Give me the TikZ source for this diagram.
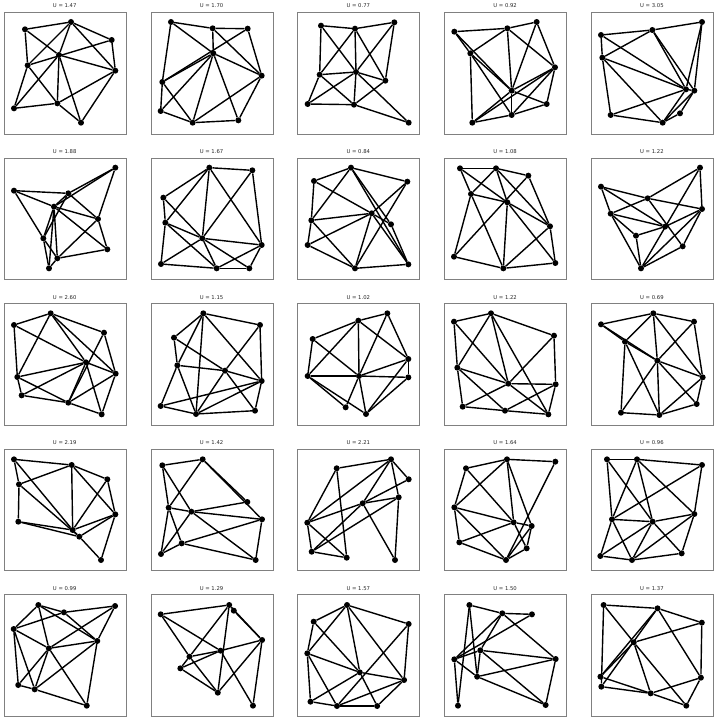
\documentclass[tikz,border=0pt]{standalone}
\usepackage{fontspec}
\setmainfont{DejaVu Sans}
\begin{document}
\begin{tikzpicture}[x=1pt,y=-1pt]
\tikzset{
 dot/.style={circle,fill=black,inner sep=0pt,minimum size=6pt},
 edge/.style={line width=1.4pt,black},
 framebox/.style={draw=black!50,line width=0.8pt,minimum width=122pt,minimum height=121.5pt,anchor=north west,inner sep=0pt},
 ttl/.style={font=\fontsize{5.3}{6}\selectfont,text=black!85,inner sep=0pt},
}
\newcommand\nd[3]{\node[dot] (#1) at (#2,#3) {};}
\useasboundingbox (0,0) rectangle (716,720);
\foreach \c/\r/\u [count=\k] in {0/0/1.47,1/0/1.70,2/0/0.77,3/0/0.92,4/0/3.05,
 0/1/1.88,1/1/1.67,2/1/0.84,3/1/1.08,4/1/1.22,
 0/2/2.60,1/2/1.15,2/2/1.02,3/2/1.22,4/2/0.69,
 0/3/2.19,1/3/1.42,2/3/2.21,3/3/1.64,4/3/0.96,
 0/4/0.99,1/4/1.29,2/4/1.57,3/4/1.50,4/4/1.37}{
 \node[framebox] (F\k) at ({3.7+146.8*\c},{12+145.6*\r}) {};
 \node[ttl] (T\k) at ({64.7+146.8*\c},{6+145.6*\r}) {U = \u};
}
% ---------- row 1 ----------
\begin{scope}[x=0.33333pt,y=-0.33333pt]
\nd{p1A}{75}{88}\nd{p1B}{213}{66}\nd{p1C}{335}{120}\nd{p1D}{177}{165}\nd{p1E}{83}{196}
\nd{p1F}{346}{212}\nd{p1G}{42}{325}\nd{p1H}{172}{310}\nd{p1I}{243}{368}
\foreach \a/\b in {A/B,A/E,A/D,B/C,B/F,B/E,B/D,C/F,E/C,D/F,G/E,G/D,G/H,E/H,D/H,D/I,H/F,F/I,H/I}
 \draw[edge] (p1\a) -- (p1\b);
\nd{p2A}{513}{66}\nd{p2B}{638}{85}\nd{p2C}{743}{86}\nd{p2D}{640}{160}\nd{p2E}{487}{246}
\nd{p2F}{785}{227}\nd{p2G}{482}{333}\nd{p2H}{578}{368}\nd{p2I}{715}{361}
\foreach \a/\b in {A/B,B/C,A/E,A/D,B/D,B/F,C/F,E/C,E/D,G/D,D/F,E/H,G/H,D/H,D/I,H/F,F/I,H/I,E/G}
 \draw[edge] (p2\a) -- (p2\b);
\end{scope}
\begin{scope}[x=0.33333pt,y=-0.33333pt,shift={(290pt,0pt)}]
\nd{p3A}{93}{77}\nd{p3B}{195}{86}\nd{p3C}{313}{67}\nd{p3D}{89}{224}\nd{p3E}{198}{216}
\nd{p3F}{286}{242}\nd{p3G}{53}{312}\nd{p3H}{192}{314}\nd{p3I}{356}{368}
\foreach \a/\b in {A/B,B/C,A/D,A/E,B/D,B/E,B/F,C/F,C/E,D/E,D/G,D/H,G/E,G/H,E/H,E/F,E/I,F/H,H/I}
 \draw[edge] (p3\a) -- (p3\b);
\nd{p4A}{493}{95}\nd{p4B}{652}{85}\nd{p4C}{740}{66}\nd{p4D}{541}{160}\nd{p4E}{795}{202}
\nd{p4F}{665}{272}\nd{p4G}{770}{312}\nd{p4H}{665}{345}\nd{p4I}{547}{368}
\foreach \a/\b in {A/B,B/C,A/D,A/F,D/F,D/H,D/B,B/F,B/E,C/E,C/F,E/F,E/H,E/I,F/G,F/I,H/G,H/I,D/I,F/H,E/G}
 \draw[edge] (p4\a) -- (p4\b);
\end{scope}
\begin{scope}[x=0.33333pt,y=-0.33333pt,shift={(570pt,0pt)}]
\nd{p5A}{93}{105}\nd{p5B}{247}{90}\nd{p5C}{396}{66}\nd{p5D}{97}{173}\nd{p5E}{348}{268}
\nd{p5F}{373}{272}\nd{p5G}{330}{340}\nd{p5H}{122}{345}\nd{p5I}{278}{368}
\foreach \a/\b in {A/B,B/C,A/D,D/B,A/E,D/E,D/I,D/H,B/E,B/F,C/E,C/F,H/E,H/I,E/I,F/I,G/I,F/G,E/F}
 \draw[edge] (p5\a) -- (p5\b);
\end{scope}
% ---------- row 2 ----------
\begin{scope}[x=0.33333pt,y=-0.33333pt,shift={(0pt,-145pt)}]
\nd{p6A}{42}{137}\nd{p6B}{205}{145}\nd{p6C}{346}{68}\nd{p6D}{162}{185}\nd{p6E}{294}{222}
\nd{p6F}{130}{280}\nd{p6G}{172}{340}\nd{p6H}{322}{313}\nd{p6I}{147}{370}
\foreach \a/\b in {A/B,A/D,A/F,B/C,C/D,B/D,B/E,C/E,D/E,D/H,D/G,D/F,B/F,D/I,F/G,F/I,G/I,G/E,G/H,E/H}
 \draw[edge] (p6\a) -- (p6\b);
\nd{p7A}{628}{68}\nd{p7B}{757}{76}\nd{p7C}{490}{158}\nd{p7D}{496}{233}\nd{p7E}{607}{280}
\nd{p7F}{785}{300}\nd{p7G}{483}{357}\nd{p7H}{650}{370}\nd{p7I}{748}{370}
\foreach \a/\b in {A/B,A/C,A/D,A/E,A/F,B/E,B/F,C/D,C/E,D/E,D/H,D/G,E/F,E/G,E/H,E/I,G/H,H/I,I/F,H/F}
 \draw[edge] (p7\a) -- (p7\b);
\end{scope}
\begin{scope}[x=0.33333pt,y=-0.33333pt,shift={(290pt,-145pt)}]
\nd{p8A}{183}{68}\nd{p8B}{72}{108}\nd{p8C}{352}{110}\nd{p8D}{245}{205}\nd{p8E}{64}{226}
\nd{p8F}{303}{238}\nd{p8G}{53}{300}\nd{p8H}{195}{370}\nd{p8I}{355}{358}
\foreach \a/\b in {A/B,A/C,A/E,A/F,A/I,B/D,B/E,C/D,C/H,E/D,E/H,E/G,G/H,G/D,D/H,D/F,D/I,F/I,H/I}
 \draw[edge] (p8\a) -- (p8\b);
\nd{p9A}{510}{70}\nd{p9B}{618}{70}\nd{p9C}{715}{92}\nd{p9D}{543}{147}\nd{p9E}{652}{172}
\nd{p9F}{780}{244}\nd{p9G}{492}{335}\nd{p9H}{640}{370}\nd{p9I}{796}{354}
\foreach \a/\b in {A/B,B/C,A/D,A/E,B/D,B/E,B/F,C/G,C/F,D/E,D/G,D/H,E/F,E/H,E/I,F/H,F/I,H/I,G/H}
 \draw[edge] (p9\a) -- (p9\b);
\end{scope}
\begin{scope}[x=0.33333pt,y=-0.33333pt,shift={(570pt,-145pt)}]
\nd{p10A}{93}{125}\nd{p10B}{233}{160}\nd{p10C}{390}{68}\nd{p10D}{122}{206}\nd{p10E}{396}{192}
\nd{p10F}{285}{245}\nd{p10G}{198}{272}\nd{p10H}{338}{304}\nd{p10I}{213}{370}
\foreach \a/\b in {A/B,B/E,A/D,A/F,B/C,B/D,B/H,C/E,C/I,D/F,D/I,G/F,G/I,E/F,E/I,E/H,H/I,D/G}
 \draw[edge] (p10\a) -- (p10\b);
\end{scope}
% ---------- row 3 ----------
\begin{scope}[x=0.33333pt,y=-0.33333pt,shift={(0pt,-290pt)}]
\nd{p11A}{42}{105}\nd{p11B}{152}{70}\nd{p11C}{312}{128}\nd{p11D}{258}{217}\nd{p11E}{347}{251}
\nd{p11F}{52}{261}\nd{p11G}{65}{316}\nd{p11H}{205}{338}\nd{p11I}{305}{373}
\foreach \a/\b in {A/B,A/F,A/D,B/F,B/D,B/E,B/C,C/E,C/H,D/F,D/E,D/H,D/G,D/I,F/G,F/H,G/H,H/I,E/I,H/E}
 \draw[edge] (p11\a) -- (p11\b);
\nd{p12A}{610}{70}\nd{p12B}{780}{105}\nd{p12C}{522}{143}\nd{p12D}{532}{226}\nd{p12E}{675}{242}
\nd{p12F}{785}{273}\nd{p12G}{482}{348}\nd{p12H}{588}{372}\nd{p12I}{765}{362}
\foreach \a/\b in {A/B,A/C,A/D,A/H,A/F,B/E,B/F,C/D,C/E,D/E,D/G,D/H,E/F,E/H,E/I,G/F,G/H,H/F,H/I,I/F}
 \draw[edge] (p12\a) -- (p12\b);
\end{scope}
\begin{scope}[x=0.33333pt,y=-0.33333pt,shift={(290pt,-290pt)}]
\nd{p13A}{292}{70}\nd{p13B}{205}{92}\nd{p13C}{68}{147}\nd{p13D}{355}{207}\nd{p13E}{53}{258}
\nd{p13F}{207}{258}\nd{p13G}{355}{262}\nd{p13H}{167}{352}\nd{p13I}{228}{372}
\foreach \a/\b in {A/B,A/D,A/F,B/C,B/F,B/D,B/E,C/E,C/F,E/F,F/G,E/H,E/I,F/H,F/I,F/D,D/G,D/I,G/I}
 \draw[edge] (p13\a) -- (p13\b);
\nd{p14A}{603}{70}\nd{p14B}{492}{95}\nd{p14C}{792}{137}\nd{p14D}{502}{233}\nd{p14E}{655}{281}
\nd{p14F}{797}{283}\nd{p14G}{518}{350}\nd{p14H}{645}{362}\nd{p14I}{775}{373}
\foreach \a/\b in {A/B,A/C,A/D,A/E,A/I,B/D,B/E,C/F,C/E,D/E,D/G,D/H,G/E,E/F,E/I,G/H,H/I,H/F,F/I}
 \draw[edge] (p14\a) -- (p14\b);
\end{scope}
\begin{scope}[x=0.33333pt,y=-0.33333pt,shift={(570pt,-290pt)}]
\nd{p15A}{93}{103}\nd{p15B}{250}{70}\nd{p15C}{372}{95}\nd{p15D}{165}{155}\nd{p15E}{262}{212}
\nd{p15F}{398}{262}\nd{p15G}{380}{342}\nd{p15H}{153}{368}\nd{p15I}{268}{375}
\foreach \a/\b in {A/B,A/D,A/E,B/C,B/D,B/E,B/F,C/E,C/F,D/E,D/H,D/I,E/F,E/H,E/I,E/G,F/G,F/I,G/I,H/I}
 \draw[edge] (p15\a) -- (p15\b);
\end{scope}
% ---------- row 4 ----------
\begin{scope}[x=0.33333pt,y=-0.33333pt,shift={(0pt,-435pt)}]
\nd{p16A}{42}{73}\nd{p16B}{215}{90}\nd{p16C}{57}{148}\nd{p16D}{322}{133}\nd{p16E}{346}{238}
\nd{p16F}{55}{260}\nd{p16G}{218}{285}\nd{p16H}{238}{305}\nd{p16I}{303}{375}
\foreach \a/\b in {A/B,A/C,A/G,B/C,B/G,B/D,B/E,C/H,C/F,D/E,D/G,F/G,F/H,G/E,H/E,H/I,E/I,G/H}
 \draw[edge] (p16\a) -- (p16\b);
\nd{p17A}{487}{91}\nd{p17B}{608}{73}\nd{p17C}{742}{201}\nd{p17D}{506}{218}\nd{p17E}{574}{230}
\nd{p17F}{786}{253}\nd{p17G}{483}{357}\nd{p17H}{545}{325}\nd{p17I}{767}{375}
\foreach \a/\b in {A/B,A/D,A/E,B/D,B/C,B/F,D/E,E/C,E/F,E/I,E/G,D/G,D/H,H/F,H/I,G/H,F/I}
 \draw[edge] (p17\a) -- (p17\b);
\end{scope}
\begin{scope}
\nd{p18A}{336.7}{468.3}\nd{p18B}{391}{459.3}\nd{p18C}{408.7}{479.3}\nd{p18D}{398.7}{497.3}\nd{p18E}{362.7}{503.3}
\nd{p18F}{307.3}{522.7}\nd{p18G}{311.7}{551.7}\nd{p18H}{346.7}{557.7}\nd{p18I}{395}{560}
\foreach \a/\b in {A/B,A/F,A/H,B/F,B/E,B/D,B/C,C/E,D/E,D/I,D/G,E/F,E/I,F/G,F/H,G/E,G/H}
 \draw[edge] (p18\a) -- (p18\b);
\end{scope}
\begin{scope}[x=0.33333pt,y=-0.33333pt,shift={(356pt,-435pt)}]
\nd{p19A}{453}{73}\nd{p19B}{598}{80}\nd{p19C}{330}{100}\nd{p19D}{295}{217}\nd{p19E}{473}{262}
\nd{p19F}{527}{273}\nd{p19G}{310}{322}\nd{p19H}{512}{340}\nd{p19I}{450}{375}
\foreach \a/\b in {A/B,A/C,A/D,A/E,A/F,B/I,C/D,C/E,D/E,D/G,D/I,G/E,G/I,E/F,E/H,F/H,F/I,H/I}
 \draw[edge] (p19\a) -- (p19\b);
\nd{p20A}{753}{73}\nd{p20B}{843}{73}\nd{p20C}{1038}{90}\nd{p20D}{768}{253}\nd{p20E}{890}{260}
\nd{p20F}{1015}{237}\nd{p20G}{733}{363}\nd{p20H}{828}{375}\nd{p20I}{977}{355}
\foreach \a/\b in {A/B,B/C,A/D,A/E,B/D,B/E,B/F,C/D,C/F,D/E,D/G,D/H,E/F,E/G,E/H,E/I,F/I,F/H,G/H,H/I}
 \draw[edge] (p20\a) -- (p20\b);
\end{scope}
% ---------- row 5 ----------
\begin{scope}[x=0.4566pt,y=-0.33333pt,shift={(0pt,-580pt)}]
\nd{p21A}{84}{75}\nd{p21B}{140}{97}\nd{p21C}{252}{78}\nd{p21D}{30}{147}\nd{p21E}{107}{205}
\nd{p21F}{213}{183}\nd{p21G}{40}{315}\nd{p21H}{76}{328}\nd{p21I}{190}{377}
\foreach \a/\b in {A/B,B/C,A/D,A/E,A/F,D/B,B/F,D/E,D/G,D/H,C/E,C/F,E/F,E/G,E/H,E/I,F/H,F/I,H/I,G/H}
 \draw[edge] (p21\a) -- (p21\b);
\nd{p22A}{352}{103}\nd{p22B}{502}{75}\nd{p22C}{512}{92}\nd{p22D}{574}{180}\nd{p22E}{483}{212}
\nd{p22F}{415}{230}\nd{p22G}{395}{265}\nd{p22H}{477}{338}\nd{p22I}{554}{377}
\foreach \a/\b in {A/B,A/E,A/F,B/C,B/D,B/F,B/H,C/D,D/E,E/F,G/E,G/H,F/H,D/H,D/I,E/I,F/G}
 \draw[edge] (p22\a) -- (p22\b);
\nd{p23A}{760}{75}\nd{p23B}{687}{125}\nd{p23C}{895}{132}\nd{p23D}{673}{220}\nd{p23E}{788}{277}
\nd{p23F}{885}{300}\nd{p23G}{680}{365}\nd{p23H}{738}{378}\nd{p23I}{826}{378}
\foreach \a/\b in {A/B,A/C,A/D,A/E,A/F,B/D,B/E,C/F,C/H,D/E,D/G,D/H,E/F,E/G,E/I,F/I,F/H,G/H,H/I}
 \draw[edge] (p23\a) -- (p23\b);
\nd{p24A}{1028}{75}\nd{p24B}{1100}{100}\nd{p24C}{1165}{103}\nd{p24D}{995}{238}\nd{p24E}{1052}{211}
\nd{p24F}{1217}{237}\nd{p24G}{1045}{290}\nd{p24H}{1003}{377}\nd{p24I}{1195}{375}
\foreach \a/\b in {A/B,B/C,A/H,A/G,B/D,B/E,B/F,C/D,D/E,D/H,E/F,E/G,E/I,G/F,G/I,F/I,D/G}
 \draw[edge] (p24\a) -- (p24\b);
\nd{p25A}{1322}{75}\nd{p25B}{1440}{85}\nd{p25C}{1537}{128}\nd{p25D}{1388}{187}\nd{p25E}{1315}{290}
\nd{p25F}{1535}{293}\nd{p25G}{1317}{320}\nd{p25H}{1425}{340}\nd{p25I}{1503}{377}
\foreach \a/\b in {A/B,A/G,A/D,D/I,B/C,B/E,B/G,B/F,C/D,C/F,D/E,D/H,E/H,G/H,H/I,F/I,H/F}
 \draw[edge] (p25\a) -- (p25\b);
\end{scope}
\end{tikzpicture}
\end{document}
